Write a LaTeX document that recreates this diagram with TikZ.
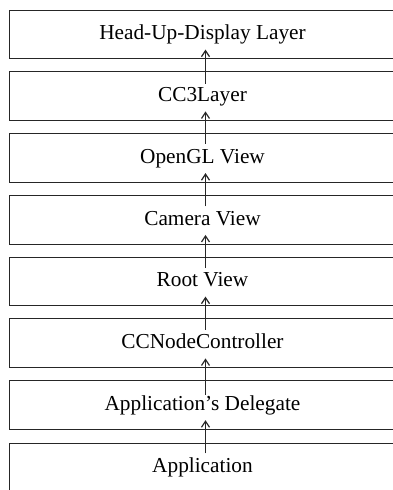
\documentclass[tikz,border=0pt]{standalone}
\usepackage{fontspec}
\setmainfont{Liberation Serif}
\usetikzlibrary{arrows.meta}

\tikzset{
  layerbox/.style={draw=black!85, line width=0.8pt, outer sep=0pt,
    minimum width=387pt, minimum height=48.6pt, inner sep=0pt,
    text height=11pt, text depth=0pt,
    font=\fontsize{21.3}{24}\selectfont},
  uparrow/.style={draw=black!85, line width=0.8pt,
    -{Straight Barb[length=6pt,width=8pt,line width=1.2pt]}}
}

\begin{document}
\begin{tikzpicture}[x=1pt,y=1pt]
  \useasboundingbox (0,0) rectangle (392,-490);

  % stack of layers, top to bottom
  \node[layerbox] (hud)  at (202.5,-34.3)  {Head-Up-Display Layer};
  \node[layerbox] (cc3)  at (202.5,-96.1)  {CC3Layer};
  \node[layerbox] (gl)   at (202.5,-157.8) {OpenGL View};
  \node[layerbox] (cam)  at (202.5,-219.6) {Camera View};
  \node[layerbox] (root) at (202.5,-281.3) {Root View};
  \node[layerbox] (ctrl) at (202.5,-343.1) {CCNodeController};
  \node[layerbox] (dele) at (202.5,-404.9) {Application’s Delegate};
  \node[layerbox] (app)  at (202.5,-467.2) {Application};

  % each layer points up to the one above it
  \draw[uparrow] ([xshift=3pt,yshift=-12pt]cc3.north)  -- ([xshift=3pt,yshift=9pt]hud.south);
  \draw[uparrow] ([xshift=3pt,yshift=-10pt]gl.north)   -- ([xshift=3pt,yshift=9pt]cc3.south);
  \draw[uparrow] ([xshift=3pt,yshift=-11pt]cam.north)  -- ([xshift=3pt,yshift=9pt]gl.south);
  \draw[uparrow] ([xshift=3pt,yshift=-11pt]root.north) -- ([xshift=3pt,yshift=9pt]cam.south);
  \draw[uparrow] ([xshift=3pt,yshift=-11pt]ctrl.north) -- ([xshift=3pt,yshift=9pt]root.south);
  \draw[uparrow] ([xshift=3pt,yshift=-14pt]dele.north) -- ([xshift=3pt,yshift=9pt]ctrl.south);
  \draw[uparrow] ([xshift=3pt,yshift=-10.5pt]app.north)  -- ([xshift=3pt,yshift=9pt]dele.south);
\end{tikzpicture}
\end{document}
